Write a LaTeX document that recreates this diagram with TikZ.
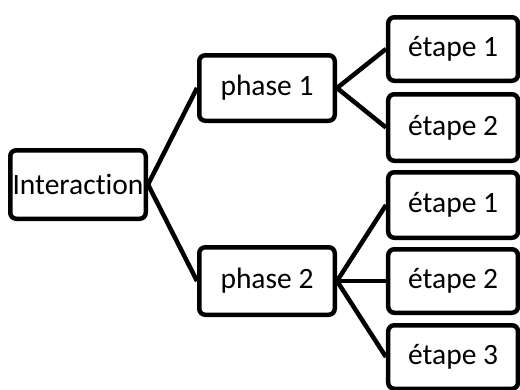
\documentclass[tikz,border=0pt]{standalone}
\usepackage{fontspec}
\setmainfont{Carlito}[Ligatures=NoCommon]
\begin{document}
\begin{tikzpicture}[x=1pt,y=-1pt,
  box/.style={draw=black,line width=4.5pt,rounded corners=6pt,fill=white,
    inner sep=0pt,font=\fontsize{29.5}{35}\selectfont},
  link/.style={draw=black,line width=4.5pt}]
\useasboundingbox (0,0) rectangle (520,389);
\node[box,minimum width=135.5pt,minimum height=68.5pt] (inter) at (78,184.5) {Interaction};
\node[box,minimum width=135.5pt,minimum height=65.5pt] (p1) at (267,88) {phase 1};
\node[box,minimum width=135.5pt,minimum height=67.5pt] (p2) at (267,281) {phase 2};
\node[box,minimum width=129.75pt,minimum height=63.5pt] (e11) at (453.1,49) {étape 1};
\node[box,minimum width=129.75pt,minimum height=66.5pt] (e12) at (453.1,127.5) {étape 2};
\node[box,minimum width=129.75pt,minimum height=65.5pt] (e21) at (453.1,205) {étape 1};
\node[box,minimum width=129.75pt,minimum height=63.5pt] (e22) at (453.1,281) {étape 2};
\node[box,minimum width=129.75pt,minimum height=63.5pt] (e23) at (453.1,357) {étape 3};
\draw[link] (inter.east) -- (p1.west);
\draw[link] (inter.east) -- (p2.west);
\draw[link] (p1.east) -- (e11.west);
\draw[link] (p1.east) -- (e12.west);
\draw[link] (p2.east) -- (e21.west);
\draw[link] (p2.east) -- (e22.west);
\draw[link] (p2.east) -- (e23.west);
\end{tikzpicture}
\end{document}
